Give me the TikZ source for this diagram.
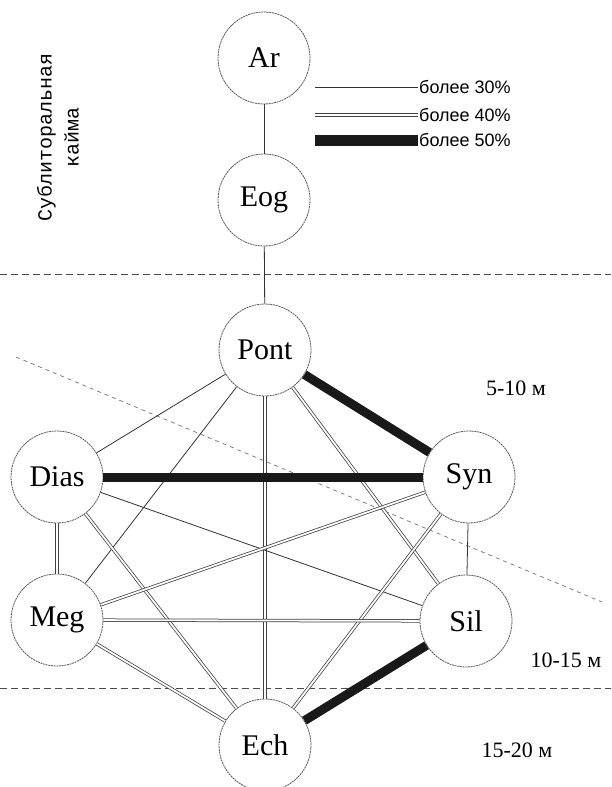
\documentclass[tikz,border=0pt]{standalone}
\usepackage{fontspec}
\setmainfont{Liberation Serif}
\newfontfamily\legendfont{Liberation Sans}
\newfontfamily\beltfont{Liberation Mono}
\usepackage{tikz}
\usetikzlibrary{positioning}

\begin{document}
\begin{tikzpicture}[x=1pt, y=-1pt,
    every node/.style={font=\fontsize{30}{31}\selectfont},
    taxon/.style={circle, draw=black!65, line width=0.8pt, dash pattern=on 2pt off 0.7pt, fill=white, minimum size=92pt, inner sep=0pt},
    single/.style={draw=black!80, line width=0.8pt},
    twin/.style={draw=black!75, line width=0.75pt, double=white, double distance=1.8pt},
    heavy/.style={draw=black!90, line width=9pt},
    zone/.style={draw=black!70, line width=0.8pt, dash pattern=on 7pt off 4pt},
    slope/.style={draw=black!55, line width=0.7pt, dash pattern=on 4pt off 4pt},
    depth/.style={font=\fontsize{22}{24}\selectfont, inner sep=0pt},
    legend/.style={font=\legendfont\fontsize{18}{19}\selectfont, anchor=west, inner sep=1pt}]

    \useasboundingbox (0,0) rectangle (611,787);
    \fill[white] (0,0) rectangle (611,787);

    % Depth zones
    \coordinate (z1a) at (0,274);
    \coordinate (z1b) at (611,274);
    \coordinate (z2a) at (0,688);
    \coordinate (z2b) at (611,688);
    \coordinate (s1) at (16,357);
    \coordinate (s2) at (602,602);
    \draw[zone] (z1a) -- (z1b);
    \draw[zone] (z2a) -- (z2b);
    \draw[slope] (s1) -- (s2);

    % Nodes
    \node[taxon] (Ar) at (264,58) {Ar};
    \node[taxon] (Eog) at (264,200) {Eog};
    \node[taxon] (Pont) at (265,350) {Pont};
    \node[taxon] (Dias) at (57,477) {Dias};
    \node[taxon] (Syn) at (469,477) {Syn};
    \node[taxon] (Meg) at (57,620) {Meg};
    \node[taxon] (Sil) at (466,621) {Sil};
    \node[taxon] (Ech) at (265,745) {Ech};

    % Edges
    \draw[single] (Ar) -- (Eog);
    \draw[single] (Eog) -- (Pont);
    \draw[single] (Pont) -- (Dias);
    \draw[heavy] (Pont) -- (Syn);
    \draw[single] (Pont) -- (Meg);
    \draw[twin] (Pont) -- (Sil);
    \draw[twin] (Pont) -- (Ech);
    \draw[heavy] (Dias) -- (Syn);
    \draw[twin] (Dias) -- (Meg);
    \draw[single] (Dias) -- (Sil);
    \draw[twin] (Dias) -- (Ech);
    \draw[twin] (Syn) -- (Meg);
    \draw[single] (Syn) -- (Sil);
    \draw[twin] (Syn) -- (Ech);
    \draw[twin] (Meg) -- (Sil);
    \draw[twin] (Meg) -- (Ech);
    \draw[heavy] (Sil) -- (Ech);

    % Legend
    \node[legend] (l30) at (418,87) {более 30\%};
    \node[legend] (l40) at (418,115) {более 40\%};
    \node[legend] (l50) at (418,140) {более 50\%};
    \coordinate (k30) at (315,87);
    \coordinate (k40) at (315,115);
    \coordinate (k50) at (315,140);
    \draw[single] (k30) -- (l30.west);
    \draw[twin] (k40) -- (l40.west);
    \draw[heavy, line width=11pt] (k50) -- (l50.west);

    % Labels
    \node[rotate=90, align=center, font=\beltfont\fontsize{20}{27}\selectfont] (belt) at (58,137) {Сублиторальная\\кайма};
    \node[depth] (d1) at (516,388) {5-10 м};
    \node[depth] (d2) at (566,660) {10-15 м};
    \node[depth] (d3) at (517,750) {15-20 м};
\end{tikzpicture}
\end{document}
